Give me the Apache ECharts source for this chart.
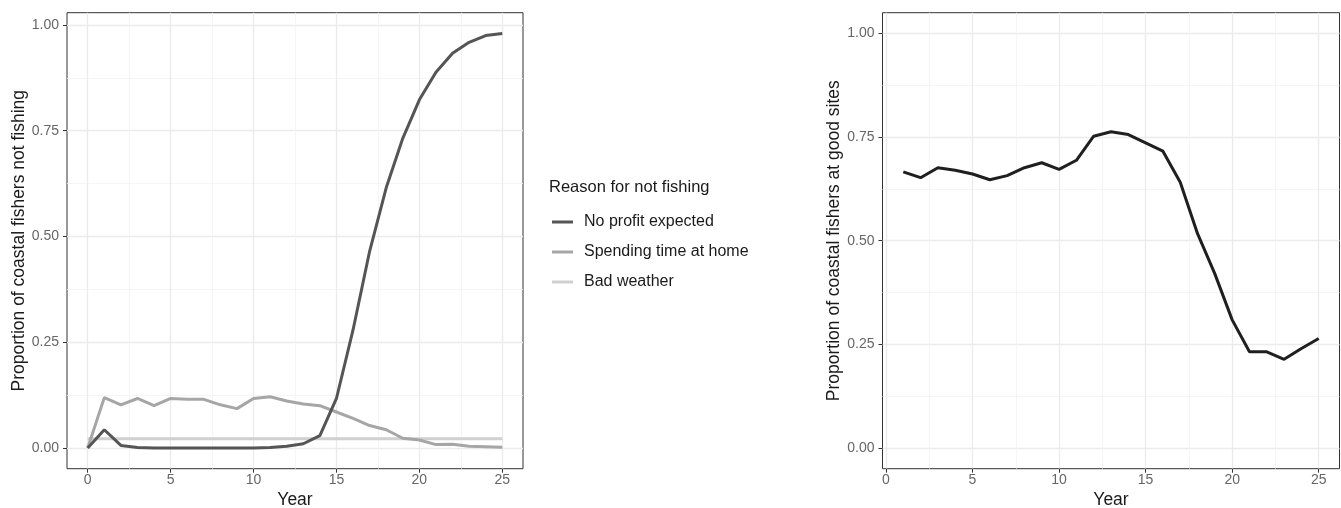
<!DOCTYPE html>
<html>
<head>
<meta charset="utf-8">
<script src="https://cdn.jsdelivr.net/npm/echarts@6/dist/echarts.min.js"></script>
<style>
  html, body { margin: 0; padding: 0; background: #fff; }
  #chart { width: 1341px; height: 508px; }
</style>
</head>
<body>
<div id="chart"></div>
<script>
// years 0..25 (left panel)
const years = [0, 1, 2, 3, 4, 5, 6, 7, 8, 9, 10, 11, 12, 13, 14, 15, 16, 17, 18, 19, 20, 21, 22, 23, 24, 25];
const noProfit = [0, 0.043, 0.006, 0.001, 0, 0, 0, 0, 0, 0, 0, 0.001, 0.004, 0.010, 0.029, 0.117, 0.279, 0.465, 0.615, 0.732, 0.823, 0.888, 0.933, 0.959, 0.975, 0.980];
const homeTime = [0, 0.119, 0.102, 0.117, 0.100, 0.117, 0.115, 0.115, 0.102, 0.093, 0.117, 0.121, 0.111, 0.104, 0.100, 0.085, 0.070, 0.053, 0.043, 0.023, 0.019, 0.008, 0.009, 0.004, 0.003, 0.002];
const badWeather = [0.022, 0.022, 0.022, 0.022, 0.022, 0.022, 0.022, 0.022, 0.022, 0.022, 0.022, 0.022, 0.022, 0.022, 0.022, 0.022, 0.022, 0.022, 0.022, 0.022, 0.022, 0.022, 0.022, 0.022, 0.022, 0.022];

// years 1..25 (right panel)
const siteYears = [1, 2, 3, 4, 5, 6, 7, 8, 9, 10, 11, 12, 13, 14, 15, 16, 17, 18, 19, 20, 21, 22, 23, 24, 25];
const goodSites = [0.666, 0.652, 0.676, 0.670, 0.661, 0.647, 0.657, 0.676, 0.688, 0.672, 0.694, 0.752, 0.763, 0.756, 0.736, 0.716, 0.641, 0.517, 0.420, 0.309, 0.232, 0.232, 0.214, 0.240, 0.264];

const xTicks = [0, 5, 10, 15, 20, 25];
const xMinor = [2.5, 7.5, 12.5, 17.5, 22.5];
const yTicks = [0, 0.25, 0.5, 0.75, 1];
const yMinor = [0.125, 0.375, 0.625, 0.875];

const reasons = ["No profit expected", "Spending time at home", "Bad weather"];
const reasonColors = ["#555555", "#a6a6a6", "#d0d0d0"];

const font = "Liberation Sans, Arial, Helvetica, sans-serif";

const pairs = (xs, ys) => xs.map((x, i) => [x, ys[i]]);

function majorAxis(gridIndex, min, max, ticks, name, isY) {
  return {
    type: "value",
    gridIndex: gridIndex,
    min: min,
    max: max,
    name: name,
    nameLocation: "middle",
    nameGap: isY ? 39 : 19,
    nameTextStyle: { color: "#1a1a1a", fontSize: 17.5, fontFamily: font },
    axisLine: { show: false, onZero: false },
    axisTick: { show: true, length: 4, customValues: ticks, lineStyle: { color: "#333", width: 1 } },
    axisLabel: {
      show: true,
      customValues: ticks,
      margin: isY ? 8 : 4,
      color: "#666",
      fontSize: 14,
      fontFamily: font,
      formatter: function(v) { return isY ? v.toFixed(2) : String(v); },
    },
    splitLine: { show: true, lineStyle: { color: "#ebebeb", width: 1.3 } },
  };
}

function minorAxis(gridIndex, min, max, ticks) {
  return {
    type: "value",
    gridIndex: gridIndex,
    min: min,
    max: max,
    axisLine: { show: false, onZero: false },
    axisTick: { show: false, customValues: ticks },
    axisLabel: { show: false, customValues: ticks },
    splitLine: { show: true, lineStyle: { color: "#f2f2f2", width: 0.8 } },
  };
}

const chart = echarts.init(document.getElementById("chart"), null, { renderer: "canvas" });

const option = {
  animation: false,
  backgroundColor: "#ffffff",
  grid: [
    { left: 67, top: 12.7, width: 456, height: 456, containLabel: false, outerBoundsMode: "none",
      show: true, borderColor: "#333", borderWidth: 1, backgroundColor: "transparent" },
    { left: 882.5, top: 12.7, width: 457, height: 456, containLabel: false, outerBoundsMode: "none",
      show: true, borderColor: "#333", borderWidth: 1, backgroundColor: "transparent" },
  ],
  title: {
    text: "Reason for not fishing",
    left: 549,
    top: 179,
    padding: 0,
    textStyle: { color: "#1a1a1a", fontSize: 16.5, fontWeight: "normal", fontFamily: font },
  },
  legend: {
    data: reasons,
    orient: "vertical",
    left: 552,
    top: 214,
    padding: 0,
    icon: "rect",
    itemWidth: 21,
    itemHeight: 3,
    itemGap: 14,
    textStyle: { color: "#1a1a1a", fontSize: 16, fontFamily: font, padding: [0, 0, 0, 6] },
  },
  xAxis: [
    majorAxis(0, -1.25, 26.25, xTicks, "Year", false),
    minorAxis(0, -1.25, 26.25, xMinor),
    majorAxis(1, -0.2, 26.2, xTicks, "Year", false),
    minorAxis(1, -0.2, 26.2, xMinor),
  ],
  yAxis: [
    majorAxis(0, -0.049, 1.029, yTicks, "Proportion of coastal fishers not fishing", true),
    minorAxis(0, -0.049, 1.029, yMinor),
    majorAxis(1, -0.05, 1.05, yTicks, "Proportion of coastal fishers at good sites", true),
    minorAxis(1, -0.05, 1.05, yMinor),
  ],
  series: [
    {
      name: reasons[0], type: "line", xAxisIndex: 0, yAxisIndex: 0,
      data: pairs(years, noProfit), showSymbol: false, color: reasonColors[0],
      lineStyle: { color: reasonColors[0], width: 3 }, z: 4,
    },
    {
      name: reasons[1], type: "line", xAxisIndex: 0, yAxisIndex: 0,
      data: pairs(years, homeTime), showSymbol: false, color: reasonColors[1],
      lineStyle: { color: reasonColors[1], width: 3 }, z: 3,
    },
    {
      name: reasons[2], type: "line", xAxisIndex: 0, yAxisIndex: 0,
      data: pairs(years, badWeather), showSymbol: false, color: reasonColors[2],
      lineStyle: { color: reasonColors[2], width: 3 }, z: 2,
    },
    {
      name: "Good sites", type: "line", xAxisIndex: 2, yAxisIndex: 2,
      data: pairs(siteYears, goodSites), showSymbol: false, color: "#1f1f1f",
      lineStyle: { color: "#1f1f1f", width: 3 },
    },
  ],
};
chart.setOption(option);
</script>
</body>
</html>
